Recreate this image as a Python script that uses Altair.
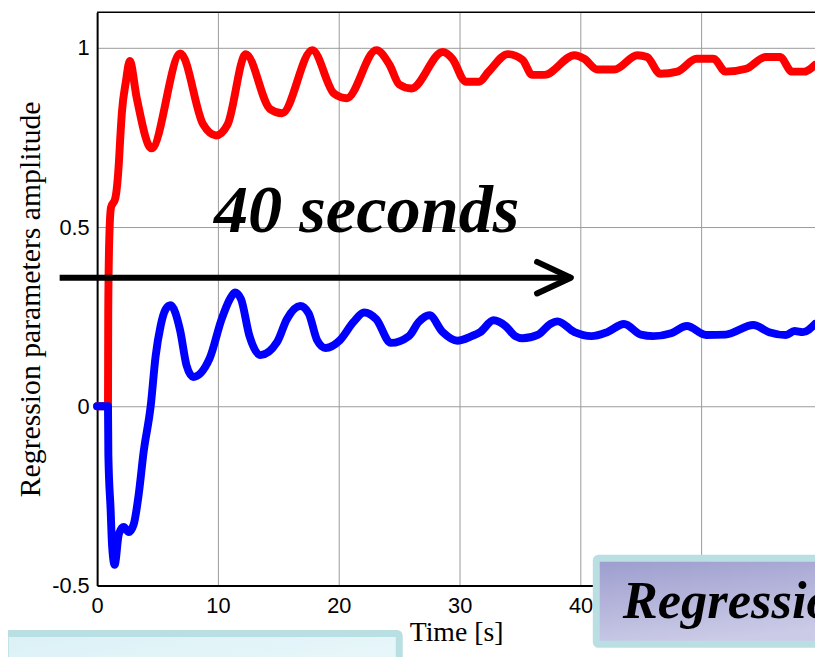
import altair as alt
import pandas as pd

# ---- data ----
red_t = [0, 0.9, 0.92, 1.0, 1.15, 1.5, 1.8, 1.9, 2.05, 2.38, 2.7, 3.28, 4.5, 6.9, 8.77, 9.84,
         10.8, 12.3, 14.3, 15.3, 17.8, 19.6, 20.65, 23.1, 24.2, 25.0, 26.0, 28.6, 29.4, 30.5,
         31.6, 32.4, 34.0, 35.2, 36.0, 37.0, 39.5, 40.3, 41.4, 42.8, 44.7, 45.5, 46.6, 48.0,
         49.6, 51.0, 52.0, 53.7, 55.3, 56.5, 57.5, 58.5, 59.4]
red_y = [0, 0, 0.26, 0.46, 0.555, 0.58, 0.68, 0.74, 0.82, 0.906, 0.964, 0.86, 0.72, 0.985, 0.787, 0.756,
         0.787, 0.983, 0.83, 0.818, 0.994, 0.873, 0.86, 0.994, 0.953, 0.898, 0.887, 0.989, 0.97, 0.906,
         0.906, 0.934, 0.983, 0.967, 0.925, 0.925, 0.98, 0.97, 0.94, 0.94, 0.98, 0.975, 0.928, 0.934,
         0.97, 0.97, 0.934, 0.942, 0.975, 0.975, 0.934, 0.934, 0.953]

blue_t = [0, 0.9, 0.93, 1.12, 1.23, 1.45, 1.8, 2.2, 2.62, 3.03, 3.44, 3.85, 4.43, 4.84, 5.25, 5.66,
          6.07, 6.86, 7.4, 7.95, 9.3, 10.3, 11.0, 11.4, 11.9, 12.6, 13.5, 14.9, 15.7, 16.8, 17.5,
          18.2, 18.9, 20.1, 21.2, 22.1, 23.1, 24.3, 25.8, 26.6, 27.5, 28.6, 29.8, 31.0, 31.7,
          32.8, 33.8, 34.6, 35.2, 36.5, 37.5, 38.1, 39.5, 40.9, 42.2, 43.6, 45.0, 46.0, 47.5,
          48.8, 50.4, 52.0, 54.3, 55.6, 57.0, 57.7, 58.4, 59.4]
blue_y = [0, 0, -0.135, -0.29, -0.384, -0.442, -0.356, -0.337, -0.351, -0.329, -0.246, -0.127, 0.0, 0.14, 0.224, 0.27,
          0.282, 0.213, 0.114, 0.082, 0.133, 0.243, 0.30, 0.318, 0.30, 0.197, 0.143, 0.18, 0.243, 0.28, 0.26,
          0.185, 0.163, 0.185, 0.235, 0.262, 0.243, 0.177, 0.196, 0.235, 0.254, 0.207, 0.183, 0.196, 0.207,
          0.24, 0.224, 0.196, 0.19, 0.2, 0.23, 0.237, 0.207, 0.196, 0.207, 0.23, 0.2, 0.196, 0.204,
          0.224, 0.199, 0.2, 0.227, 0.207, 0.199, 0.21, 0.207, 0.23]

x_ticks = [0, 10, 20, 30, 40, 50]
y_ticks = [-0.5, 0, 0.5, 1]
x_domain = [0, 59.4]
y_domain = [-0.5, 1.1]

arrow_t = [-3.1, 39.2]
arrow_y = [0.359, 0.359]
head_t = [36.4, 39.2, 36.4]
head_y = [0.403, 0.359, 0.315]

label_text = ["40 seconds"]
label_t = [22.3]
label_y = [0.486]

box_names = ["bottom_left", "bottom_right"]
box_t1 = [-7.6, 41.3]
box_t2 = [25.0, 62.0]
box_y1 = [-0.634, -0.424]
box_y2 = [-0.85, -0.664]

box_text = ["Regression"]
box_text_t = [43.5]
box_text_y = [-0.591]

# ---- tables ----
red_df = pd.DataFrame({"t": red_t, "y": red_y, "i": range(len(red_t))})
blue_df = pd.DataFrame({"t": blue_t, "y": blue_y, "i": range(len(blue_t))})
arrow_df = pd.DataFrame({"t": arrow_t, "y": arrow_y, "i": range(2)})
head_df = pd.DataFrame({"t": head_t, "y": head_y, "i": range(3)})
label_df = pd.DataFrame({"t": label_t, "y": label_y, "txt": label_text})
boxes = pd.DataFrame({"name": box_names, "t": box_t1, "t2": box_t2, "y": box_y1, "y2": box_y2})
btxt_df = pd.DataFrame({"t": box_text_t, "y": box_text_y, "txt": box_text})
frame_df = pd.DataFrame({"t": [x_domain[0]], "t2": [x_domain[1]], "y": [y_domain[1]]})

xs = alt.Scale(domain=x_domain, nice=False, zero=False)
ys = alt.Scale(domain=y_domain, nice=False, zero=False)

x_axis = alt.Axis(values=x_ticks, grid=True, gridColor="#9a9a9a", gridWidth=1, domainColor="black",
                  domainWidth=2, ticks=False, labelPadding=10, labelFlush=False,
                  labelFont="Liberation Sans", labelFontSize=22, labelColor="black",
                  titleFont="Liberation Serif", titleFontSize=28, titleFontWeight="normal",
                  titleColor="black", titlePadding=3)
y_axis = alt.Axis(values=y_ticks, grid=True, gridColor="#9a9a9a", gridWidth=1, domainColor="black",
                  domainWidth=2, ticks=False, labelPadding=8, labelFlush=False, format="~g",
                  labelExpr="replace(datum.label, '\u2212', '-')",
                  labelFont="Liberation Sans", labelFontSize=22, labelColor="black",
                  titleFont="Liberation Serif", titleFontSize=30, titleFontWeight="normal",
                  titleColor="black", titlePadding=6)

X = alt.X("t:Q", scale=xs, axis=x_axis, title="Time [s]")
Y = alt.Y("y:Q", scale=ys, axis=y_axis, title="Regression parameters amplitude")

red = alt.Chart(red_df).mark_line(color="#FF0000", strokeWidth=8, strokeJoin="round", strokeCap="round",
                                  interpolate="monotone").encode(x=X, y=Y, order="i:Q")
blue = alt.Chart(blue_df).mark_line(color="#0000FF", strokeWidth=8, strokeJoin="round", strokeCap="round",
                                    interpolate="monotone").encode(x=X, y=Y, order="i:Q")

top_frame = alt.Chart(frame_df).mark_rule(color="black", strokeWidth=1.5).encode(x=X, x2="t2:Q", y=Y)

arrow = alt.Chart(arrow_df).mark_line(color="black", strokeWidth=6).encode(x=X, y=Y, order="i:Q")
head = alt.Chart(head_df).mark_line(color="black", strokeWidth=6, strokeJoin="round", strokeCap="round").encode(
    x=X, y=Y, order="i:Q")

label = alt.Chart(label_df).mark_text(font="Liberation Serif", fontSize=69, fontWeight="bold",
                                      fontStyle="italic", color="black", align="center",
                                      baseline="alphabetic").encode(x=X, y=Y, text="txt:N")

grad_bl = alt.LinearGradient(gradient="linear", x1=0, y1=0, x2=1, y2=1,
                             stops=[alt.GradientStop(color="#DBF1F6", offset=0),
                                    alt.GradientStop(color="#EEF9FB", offset=1)])
grad_br = alt.LinearGradient(gradient="linear", x1=0, y1=0, x2=0.3, y2=1,
                             stops=[alt.GradientStop(color="#9C9CCE", offset=0),
                                    alt.GradientStop(color="#CBCBE7", offset=1)])

box_bl = alt.Chart(boxes[boxes.name == "bottom_left"]).mark_rect(
    color=grad_bl, stroke="#BADFE2", strokeWidth=7, cornerRadius=2).encode(x=X, x2="t2:Q", y=Y, y2="y2:Q")
box_br = alt.Chart(boxes[boxes.name == "bottom_right"]).mark_rect(
    color=grad_br, stroke="#BADFE2", strokeWidth=7, cornerRadius=2).encode(x=X, x2="t2:Q", y=Y, y2="y2:Q")

btxt = alt.Chart(btxt_df).mark_text(font="Liberation Serif", fontSize=53, fontWeight="bold",
                                    fontStyle="italic", color="black", align="left",
                                    baseline="alphabetic").encode(x=X, y=Y, text="txt:N")

chart = alt.layer(red, blue, top_frame, arrow, head, label, box_bl, box_br, btxt).properties(
    width=725, height=579,
    autosize=alt.AutoSizeParams(type="none"),
    padding={"left": 90, "top": 1, "right": 0, "bottom": 69},
    background="white",
).configure_view(strokeWidth=0)

chart.save("out.html", embed_options={"renderer": "svg", "actions": False})
